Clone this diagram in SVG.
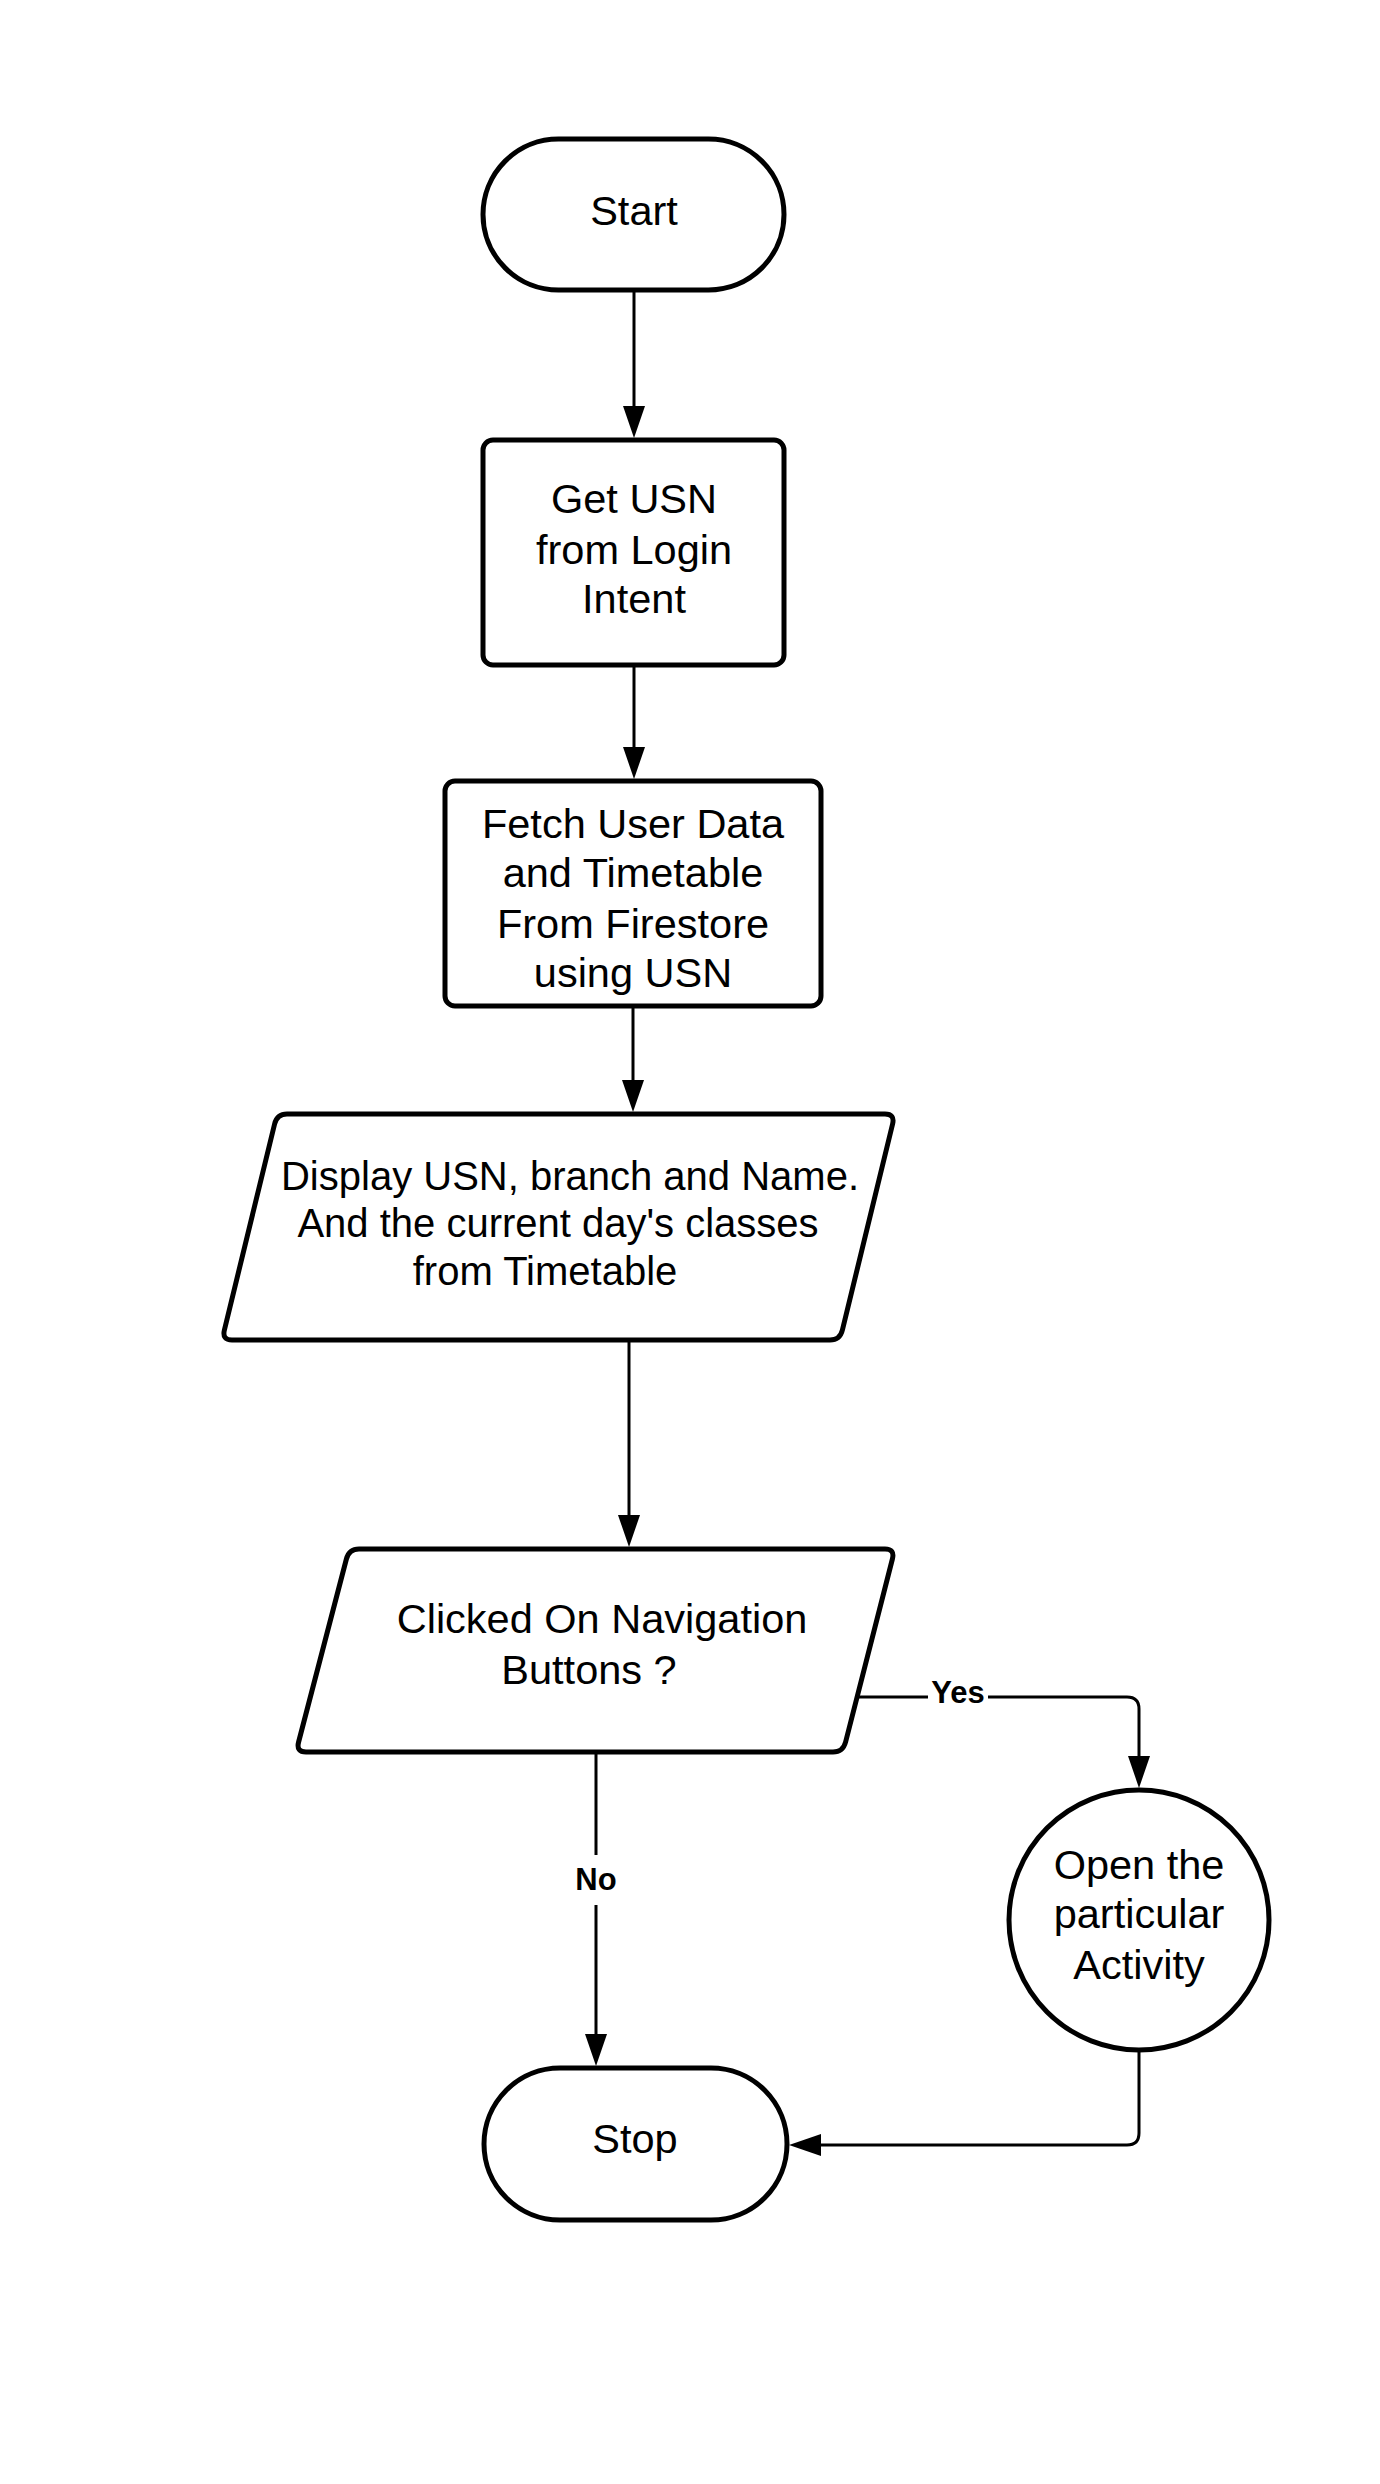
<svg xmlns="http://www.w3.org/2000/svg" width="1380" height="2484" viewBox="0 0 1380 2484">
<style>
.shape{fill:#fff;stroke:#000;stroke-width:5}
.conn{fill:none;stroke:#000;stroke-width:3}
.t{font-family:"Liberation Sans",Arial,sans-serif;font-size:41.5px;fill:#000;text-anchor:middle}
.d{font-size:40px}
.lbl{font-family:"Liberation Sans",Arial,sans-serif;font-size:31px;font-weight:bold;fill:#000;text-anchor:middle}
</style>
<defs>
<marker id="arr" markerUnits="userSpaceOnUse" markerWidth="34" markerHeight="24" refX="22" refY="11" orient="auto">
<path d="M0,0 L32,11 L0,22 Z" fill="#000"/>
</marker>
</defs>
<rect width="1380" height="2484" fill="#fff"/>
<g id="connectors">
<path class="conn" d="M634,290 L634,428" marker-end="url(#arr)"/>
<path class="conn" d="M634,665 L634,769" marker-end="url(#arr)"/>
<path class="conn" d="M633,1006 L633,1102" marker-end="url(#arr)"/>
<path class="conn" d="M629,1340 L629,1537" marker-end="url(#arr)"/>
<path class="conn" d="M857,1697 L1127,1697 Q1139,1697 1139,1709 L1139,1778" marker-end="url(#arr)"/>
<path class="conn" d="M596,1752 L596,1855 M596,1905 L596,2056" marker-end="url(#arr)"/>
<path class="conn" d="M1139,2050 L1139,2133 Q1139,2145 1127,2145 L799,2145" marker-end="url(#arr)"/>
<rect x="928" y="1680" width="60" height="30" fill="#fff"/>
<text class="lbl" x="958" y="1703">Yes</text>
<text class="lbl" x="596" y="1890">No</text>
</g>
<g id="start">
<rect class="shape" x="483" y="139" width="301" height="151" rx="75.5" ry="75.5"/>
<text class="t" x="634" y="225">Start</text>
</g>
<g id="get-usn">
<rect class="shape" x="483" y="440" width="301" height="225" rx="10" ry="10"/>
<text class="t" x="634" y="513">Get USN</text>
<text class="t" x="634" y="564">from Login</text>
<text class="t" x="634" y="613">Intent</text>
</g>
<g id="fetch">
<rect class="shape" x="445" y="781" width="376" height="225" rx="10" ry="10"/>
<text class="t" x="633" y="838">Fetch User Data</text>
<text class="t" x="633" y="887">and Timetable</text>
<text class="t" x="633" y="938">From Firestore</text>
<text class="t" x="633" y="987">using USN</text>
</g>
<g id="display">
<path class="shape" d="M287,1114 L885,1114 Q895,1114 892.6,1124 L842.4,1330 Q840,1340 830,1340 L232,1340 Q222,1340 224.4,1330 L274.6,1124 Q277,1114 287,1114 Z"/>
<text class="t d" x="570" y="1190">Display USN, branch and Name.</text>
<text class="t d" x="558" y="1237">And the current day's classes</text>
<text class="t d" x="545" y="1285">from Timetable</text>
</g>
<g id="clicked">
<path class="shape" d="M359,1549 L885,1549 Q895,1549 892.4,1559 L845.6,1742 Q843,1752 833,1752 L306,1752 Q296,1752 298.6,1742 L346.4,1559 Q349,1549 359,1549 Z"/>
<text class="t" x="602" y="1633">Clicked On Navigation</text>
<text class="t" x="589" y="1684">Buttons ?</text>
</g>
<g id="open-activity">
<circle class="shape" cx="1139" cy="1920" r="130"/>
<text class="t" x="1139" y="1879">Open the</text>
<text class="t" x="1139" y="1928">particular</text>
<text class="t" x="1139" y="1979">Activity</text>
</g>
<g id="stop">
<rect class="shape" x="484" y="2068" width="303" height="152" rx="76" ry="76"/>
<text class="t" x="635" y="2153">Stop</text>
</g>
</svg>
